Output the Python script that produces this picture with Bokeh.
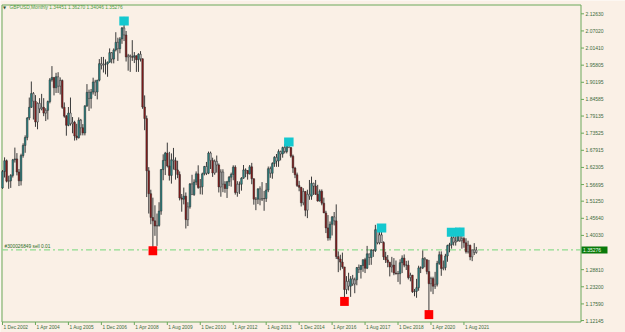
from bokeh.plotting import figure
from bokeh.models import Range1d, ColumnDataSource
from bokeh.core.properties import value
from bokeh.embed import file_html
from bokeh.resources import INLINE

symbol_title = "GBPUSD,Monthly"
header_values = "1.34451 1.36270 1.34046 1.35276"

# Monthly OHLC, Dec 2002 .. Feb 2022
opens = [
    1.5560,
    1.6095, 1.6450, 1.5780, 1.5790, 1.5970, 1.6480, 1.6510, 1.6080, 1.5790, 1.6620, 1.6950, 1.7210,
    1.7850, 1.8200, 1.8650, 1.8400, 1.7720, 1.8330, 1.8150, 1.8200, 1.8010, 1.8100, 1.8390, 1.9100,
    1.9180, 1.8840, 1.9200, 1.8890, 1.9080, 1.8200, 1.7910, 1.7610, 1.8010, 1.7660, 1.7710, 1.7260,
    1.7200, 1.7780, 1.7530, 1.7360, 1.8250, 1.8690, 1.8490, 1.8700, 1.9030, 1.8700, 1.9090, 1.9630,
    1.9580, 1.9610, 1.9620, 1.9680, 1.9990, 1.9780, 2.0080, 2.0330, 2.0120, 2.0440, 2.0800, 2.0570,
    1.9850, 1.9890, 1.9860, 1.9840, 1.9890, 1.9760, 1.9940, 1.9790, 1.8210, 1.7830, 1.6120, 1.5370,
    1.4590, 1.4480, 1.4310, 1.4330, 1.4800, 1.6160, 1.6460, 1.6700, 1.6280, 1.5970, 1.6480, 1.6450,
    1.6150, 1.6000, 1.5230, 1.5190, 1.5290, 1.4520, 1.4940, 1.5690, 1.5340, 1.5750, 1.6020, 1.5570,
    1.5600, 1.6020, 1.6260, 1.6040, 1.6700, 1.6460, 1.6050, 1.6430, 1.6310, 1.5590, 1.6080, 1.5680,
    1.5540, 1.5760, 1.5910, 1.6000, 1.6240, 1.5410, 1.5680, 1.5680, 1.5880, 1.6150, 1.6130, 1.6020,
    1.6250, 1.5860, 1.5190, 1.5190, 1.5530, 1.5190, 1.5210, 1.5210, 1.5490, 1.6190, 1.6040, 1.6360,
    1.6560, 1.6440, 1.6750, 1.6670, 1.6880, 1.6750, 1.7110, 1.6880, 1.6600, 1.6210, 1.5990, 1.5640,
    1.5580, 1.5070, 1.5440, 1.4830, 1.5350, 1.5290, 1.5710, 1.5620, 1.5350, 1.5130, 1.5450, 1.5060,
    1.4740, 1.4250, 1.3920, 1.4370, 1.4610, 1.4480, 1.3310, 1.3230, 1.3130, 1.2970, 1.2230, 1.2500,
    1.2340, 1.2580, 1.2410, 1.2550, 1.2950, 1.2890, 1.3020, 1.3210, 1.2930, 1.3400, 1.3280, 1.3520,
    1.3510, 1.4190, 1.3760, 1.4020, 1.3770, 1.3300, 1.3200, 1.3120, 1.2970, 1.3030, 1.2770, 1.2750,
    1.2750, 1.3110, 1.3260, 1.3030, 1.3030, 1.2620, 1.2700, 1.2160, 1.2170, 1.2290, 1.2940, 1.2940,
    1.3250, 1.3210, 1.2820, 1.2420, 1.2590, 1.2340, 1.2400, 1.3090, 1.3370, 1.2920, 1.2950, 1.3330,
    1.3670, 1.3700, 1.3930, 1.3780, 1.3820, 1.4180, 1.3830, 1.3900, 1.3760, 1.3470, 1.3680, 1.3300,
    1.3530, 1.34451,
]
highs = [
    1.6145,
    1.6560, 1.6490, 1.5960, 1.6010, 1.6510, 1.6880, 1.6700, 1.6180, 1.6680, 1.7020, 1.7280, 1.7880,
    1.8520, 1.9045, 1.8700, 1.8600, 1.8360, 1.8500, 1.8640, 1.8500, 1.8170, 1.8420, 1.9160, 1.9550,
    1.9180, 1.9330, 1.9350, 1.9180, 1.9110, 1.8360, 1.7950, 1.8210, 1.8520, 1.7880, 1.7760, 1.7660,
    1.7870, 1.7820, 1.7650, 1.8260, 1.8960, 1.8780, 1.8800, 1.9170, 1.9100, 1.9100, 1.9780, 1.9850,
    1.9850, 1.9770, 1.9700, 2.0130, 2.0010, 2.0130, 2.0660, 2.0480, 2.0500, 2.0830, 2.1161, 2.0700,
    1.9950, 1.9930, 2.0400, 2.0010, 1.9900, 1.9970, 2.0040, 1.9800, 1.8590, 1.7930, 1.6240, 1.5500,
    1.5240, 1.4990, 1.4720, 1.5090, 1.6180, 1.6660, 1.6740, 1.7043, 1.6740, 1.6690, 1.6870, 1.6560,
    1.6450, 1.6100, 1.5360, 1.5570, 1.5410, 1.5090, 1.5720, 1.5990, 1.5840, 1.6100, 1.6300, 1.5850,
    1.6060, 1.6280, 1.6410, 1.6750, 1.6750, 1.6550, 1.6490, 1.6620, 1.6360, 1.6170, 1.6170, 1.5780,
    1.5790, 1.5950, 1.6060, 1.6300, 1.6300, 1.5780, 1.5770, 1.5910, 1.6310, 1.6200, 1.6140, 1.6310,
    1.6380, 1.5870, 1.5260, 1.5540, 1.5610, 1.5750, 1.5460, 1.5720, 1.6260, 1.6260, 1.6400, 1.6600,
    1.6670, 1.6820, 1.6780, 1.6910, 1.6990, 1.7120, 1.7191, 1.6890, 1.6650, 1.6250, 1.6060, 1.5790,
    1.5590, 1.5550, 1.5460, 1.5500, 1.5820, 1.5930, 1.5730, 1.5820, 1.5660, 1.5510, 1.5510, 1.5240,
    1.4810, 1.4670, 1.4460, 1.4640, 1.4770, 1.5020, 1.3480, 1.3370, 1.3440, 1.2970, 1.2670, 1.2780,
    1.2670, 1.2710, 1.2620, 1.2970, 1.3050, 1.3030, 1.3210, 1.3270, 1.3660, 1.3400, 1.3550, 1.3550,
    1.4350, 1.4240, 1.4240, 1.4377, 1.3810, 1.3470, 1.3360, 1.3140, 1.3300, 1.3260, 1.3180, 1.2840,
    1.3220, 1.3350, 1.3380, 1.3170, 1.3180, 1.2780, 1.2710, 1.2250, 1.2580, 1.3010, 1.2990, 1.3510,
    1.3290, 1.3210, 1.3200, 1.2650, 1.2650, 1.2810, 1.3170, 1.3480, 1.3480, 1.3180, 1.3400, 1.3700,
    1.3760, 1.4240, 1.4000, 1.4010, 1.4230, 1.4250, 1.3980, 1.3960, 1.3910, 1.3830, 1.3700, 1.3540,
    1.3750, 1.36270,
]
lows = [
    1.5530,
    1.5900, 1.5740, 1.5530, 1.5560, 1.5900, 1.6390, 1.5970, 1.5620, 1.5640, 1.6550, 1.6710, 1.7120,
    1.7780, 1.8180, 1.7800, 1.7560, 1.7480, 1.8010, 1.8100, 1.7910, 1.7750, 1.7800, 1.8330, 1.9040,
    1.8590, 1.8670, 1.8670, 1.8620, 1.8150, 1.7860, 1.7270, 1.7580, 1.7600, 1.7350, 1.7110, 1.7120,
    1.7180, 1.7280, 1.7280, 1.7280, 1.8210, 1.8080, 1.8160, 1.8620, 1.8570, 1.8460, 1.9050, 1.9440,
    1.9340, 1.9280, 1.9200, 1.9660, 1.9640, 1.9640, 2.0030, 1.9720, 1.9970, 2.0280, 2.0370, 1.9700,
    1.9400, 1.9360, 1.9720, 1.9650, 1.9360, 1.9360, 1.9700, 1.8150, 1.7450, 1.5260, 1.4720, 1.4370,
    1.3503, 1.3990, 1.3660, 1.4290, 1.4680, 1.5810, 1.5980, 1.6230, 1.5800, 1.5700, 1.6160, 1.5830,
    1.5880, 1.5150, 1.4780, 1.5020, 1.4230, 1.4310, 1.4880, 1.5340, 1.5300, 1.5650, 1.5530, 1.5350,
    1.5340, 1.5970, 1.5980, 1.6010, 1.6180, 1.5920, 1.5990, 1.6060, 1.5410, 1.5270, 1.5420, 1.5400,
    1.5230, 1.5620, 1.5600, 1.5810, 1.5340, 1.5270, 1.5360, 1.5470, 1.5860, 1.5910, 1.5830, 1.6000,
    1.5680, 1.5010, 1.4830, 1.5030, 1.4990, 1.5130, 1.4810, 1.5100, 1.5420, 1.5890, 1.5860, 1.6250,
    1.6250, 1.6250, 1.6460, 1.6550, 1.6690, 1.6690, 1.6880, 1.6550, 1.6050, 1.5880, 1.5590, 1.5450,
    1.4950, 1.4990, 1.4630, 1.4570, 1.5170, 1.5170, 1.5330, 1.5330, 1.5110, 1.5110, 1.4990, 1.4740,
    1.4080, 1.3830, 1.3840, 1.4000, 1.4330, 1.3230, 1.2800, 1.2860, 1.2910, 1.1841, 1.2080, 1.2200,
    1.1990, 1.2350, 1.2110, 1.2370, 1.2770, 1.2590, 1.2810, 1.2770, 1.2900, 1.3030, 1.3040, 1.3300,
    1.3460, 1.3710, 1.3710, 1.3770, 1.3200, 1.3100, 1.2960, 1.2660, 1.2790, 1.2700, 1.2720, 1.2480,
    1.2400, 1.2770, 1.2960, 1.2870, 1.2560, 1.2500, 1.2120, 1.2010, 1.1960, 1.2190, 1.2770, 1.2900,
    1.2960, 1.2730, 1.1409, 1.2160, 1.2080, 1.2250, 1.2330, 1.3040, 1.2680, 1.2860, 1.2860, 1.3140,
    1.3450, 1.3570, 1.3670, 1.3670, 1.3800, 1.3790, 1.3570, 1.3600, 1.3410, 1.3410, 1.3190, 1.3160,
    1.3360, 1.34046,
]
closes = [
    1.6095,
    1.6450, 1.5780, 1.5790, 1.5970, 1.6480, 1.6510, 1.6080, 1.5790, 1.6620, 1.6950, 1.7210, 1.7850,
    1.8200, 1.8650, 1.8400, 1.7720, 1.8330, 1.8150, 1.8200, 1.8010, 1.8100, 1.8390, 1.9100, 1.9180,
    1.8840, 1.9200, 1.8890, 1.9080, 1.8200, 1.7910, 1.7610, 1.8010, 1.7660, 1.7710, 1.7260, 1.7200,
    1.7780, 1.7530, 1.7360, 1.8250, 1.8690, 1.8490, 1.8700, 1.9030, 1.8700, 1.9090, 1.9630, 1.9580,
    1.9610, 1.9620, 1.9680, 1.9990, 1.9780, 2.0080, 2.0330, 2.0120, 2.0440, 2.0800, 2.0570, 1.9850,
    1.9890, 1.9860, 1.9840, 1.9890, 1.9760, 1.9940, 1.9790, 1.8210, 1.7830, 1.6120, 1.5370, 1.4590,
    1.4480, 1.4310, 1.4330, 1.4800, 1.6160, 1.6460, 1.6700, 1.6280, 1.5970, 1.6480, 1.6450, 1.6150,
    1.6000, 1.5230, 1.5190, 1.5290, 1.4520, 1.4940, 1.5690, 1.5340, 1.5750, 1.6020, 1.5570, 1.5600,
    1.6020, 1.6260, 1.6040, 1.6700, 1.6460, 1.6050, 1.6430, 1.6310, 1.5590, 1.6080, 1.5680, 1.5540,
    1.5760, 1.5910, 1.6000, 1.6240, 1.5410, 1.5680, 1.5680, 1.5880, 1.6150, 1.6130, 1.6020, 1.6250,
    1.5860, 1.5190, 1.5190, 1.5530, 1.5190, 1.5210, 1.5210, 1.5490, 1.6190, 1.6040, 1.6360, 1.6560,
    1.6440, 1.6750, 1.6670, 1.6880, 1.6750, 1.7110, 1.6880, 1.6600, 1.6210, 1.5990, 1.5640, 1.5580,
    1.5070, 1.5440, 1.4830, 1.5350, 1.5290, 1.5710, 1.5620, 1.5350, 1.5130, 1.5450, 1.5060, 1.4740,
    1.4250, 1.3920, 1.4370, 1.4610, 1.4480, 1.3310, 1.3230, 1.3130, 1.2970, 1.2230, 1.2500, 1.2340,
    1.2580, 1.2410, 1.2550, 1.2950, 1.2890, 1.3020, 1.3210, 1.2930, 1.3400, 1.3280, 1.3520, 1.3510,
    1.4190, 1.3760, 1.4020, 1.3770, 1.3300, 1.3200, 1.3120, 1.2970, 1.3030, 1.2770, 1.2750, 1.2750,
    1.3110, 1.3260, 1.3030, 1.3030, 1.2620, 1.2700, 1.2160, 1.2170, 1.2290, 1.2940, 1.2940, 1.3250,
    1.3210, 1.2820, 1.2420, 1.2590, 1.2340, 1.2400, 1.3090, 1.3370, 1.2920, 1.2950, 1.3330, 1.3670,
    1.3700, 1.3930, 1.3780, 1.3820, 1.4180, 1.3830, 1.3900, 1.3760, 1.3470, 1.3680, 1.3300, 1.3530,
    1.3445, 1.35276,
]

x_tick_idx = [0, 16, 32, 48, 64, 80, 96, 112, 128, 144, 160, 176, 192, 208, 224]
x_tick_labels = ["1 Dec 2002", "1 Apr 2004", "1 Aug 2005", "1 Dec 2006", "1 Apr 2008",
                 "1 Aug 2009", "1 Dec 2010", "1 Apr 2012", "1 Aug 2013", "1 Dec 2014",
                 "1 Apr 2016", "1 Aug 2017", "1 Dec 2018", "1 Apr 2020", "1 Aug 2021"]
price_ticks = [2.12630, 2.07020, 2.01410, 1.95805, 1.90195, 1.84585, 1.79135, 1.73525,
               1.67915, 1.62305, 1.56695, 1.51250, 1.45640, 1.40030, 1.28810, 1.23200,
               1.17590, 1.12145]

top_marks = [59, 139, 184, 218, 222]
bottom_marks = [73, 166, 207]

order_price = 1.35276
order_label = "#300026849 sell 0.01"
last_price = 1.35276

# ---------------------------------------------------------------
n = min(len(opens), len(highs), len(lows), len(closes))
BG = "#faf0e6"
GREEN = "#6aa85a"
TXT = "#3d6b3d"
TEAL = "#2b8a8a"
DRED = "#8b1a1a"
GRAY = "#c4c4c4"

W, H = 625, 332
PX = 2.06                  # pixels per monthly bar
BAR0_PX = 2.0              # pixel x of first bar
FR_L, FR_R, FR_T, FR_B = 1.5, 580.5, 4.5, 321.5   # chart frame in pixels
P_TOP = 2.1568             # price at pixel row 4
PPX = 0.003276             # price per pixel


def X(px):
    return (px - BAR0_PX) / PX


def Y(py):
    return P_TOP - (py - 4) * PPX


idx = list(range(n))
body_top = [max(opens[i], closes[i]) for i in idx]
body_bot = [min(opens[i], closes[i]) for i in idx]
colors = []
for i in idx:
    prev = closes[max(0, i - 2):i] or [opens[i]]
    if closes[i] > opens[i] and closes[i] > max(prev):
        colors.append(TEAL)
    elif closes[i] < opens[i] and closes[i] < min(prev):
        colors.append(DRED)
    else:
        colors.append(GRAY)

src = ColumnDataSource(dict(x=idx, h=highs[:n], l=lows[:n], top=body_top, bot=body_bot, col=colors))

p = figure(width=W, height=H, output_backend="svg", toolbar_location=None,
           x_range=Range1d(X(0), X(W)), y_range=Range1d(Y(H), Y(0)),
           x_axis_location=None, y_axis_location=None,
           background_fill_color=BG, border_fill_color=BG,
           min_border=0)
p.xgrid.visible = False
p.ygrid.visible = False
p.outline_line_color = None

# chart frame (green border)
p.segment(x0=[X(FR_L), X(FR_L), X(FR_R), X(FR_L)], y0=[Y(FR_T), Y(FR_B), Y(FR_T), Y(FR_T)],
          x1=[X(FR_R), X(FR_R), X(FR_R), X(FR_L)], y1=[Y(FR_T), Y(FR_B), Y(FR_B), Y(FR_B)],
          line_color=GREEN, line_width=1)

# price scale ticks and labels
p.segment(x0=[X(FR_R)] * len(price_ticks), x1=[X(FR_R + 3)] * len(price_ticks),
          y0=price_ticks, y1=price_ticks, line_color=GREEN, line_width=1)
p.text(x=[X(FR_R + 4.5)] * len(price_ticks), y=price_ticks, text=["%.5f" % t for t in price_ticks],
       text_font=value("Liberation Sans"), text_font_size=value("5px"), text_color=TXT,
       text_align="left", text_baseline="middle")

# time scale ticks and labels
p.segment(x0=x_tick_idx, x1=x_tick_idx, y0=[Y(FR_B)] * len(x_tick_idx), y1=[Y(FR_B + 3)] * len(x_tick_idx),
          line_color=GREEN, line_width=1)
p.text(x=[t + X(BAR0_PX + 1) for t in x_tick_idx], y=[Y(327)] * len(x_tick_idx), text=x_tick_labels,
       text_font=value("Liberation Sans"), text_font_size=value("4.8px"), text_color=TXT,
       text_align="left", text_baseline="middle")

# order line
p.segment(x0=[X(FR_L)], x1=[X(FR_R)], y0=[order_price], y1=[order_price], line_color="#8fdc8f",
          line_width=1.2, line_dash="6 3 2 3")

# candles
p.segment(x0="x", y0="l", x1="x", y1="h", source=src, line_color="#3a3a3a", line_width=1)
p.vbar(x="x", width=0.8, top="top", bottom="bot", source=src, fill_color="col",
       line_color="#2a2a2a", line_width=0.5)

# swing markers
tops_y = [highs[i] - 4 * PPX for i in top_marks]
bots_y = [lows[i] for i in bottom_marks]
p.rect(x=top_marks, y=tops_y, width=4.6, height=9, height_units="screen",
       fill_color="#14c8cf", line_color=None)
p.rect(x=bottom_marks, y=bots_y, width=4.2, height=9, height_units="screen",
       fill_color="#ff0000", line_color=None)

# header
p.text(x=[X(2.5)], y=[Y(6.5)], text=["\u25BC"], text_font=value("DejaVu Sans"),
       text_font_size=value("4px"), text_color="#2f4f2f", text_baseline="middle")
p.text(x=[X(9)], y=[Y(6.5)], text=[symbol_title + "  " + header_values],
       text_font=value("Liberation Sans"), text_font_size=value("4.8px"), text_color="#4f9a3f",
       text_baseline="middle")

# order label
p.text(x=[X(4)], y=[Y(246)], text=[order_label], text_font=value("Liberation Sans"),
       text_font_size=value("4.8px"), text_color="#2e6b1e", text_baseline="middle")

# current price box
p.rect(x=[X(594)], y=[last_price], width=26 / PX, height=7, height_units="screen",
       fill_color="#0a7a0a", line_color=None)
p.text(x=[X(FR_R + 2)], y=[last_price], text=["%.5f" % last_price], text_font=value("Liberation Sans"),
       text_font_size=value("5px"), text_color="#eaffea", text_align="left", text_baseline="middle")

open("out.html", "w").write(file_html(p, INLINE))
